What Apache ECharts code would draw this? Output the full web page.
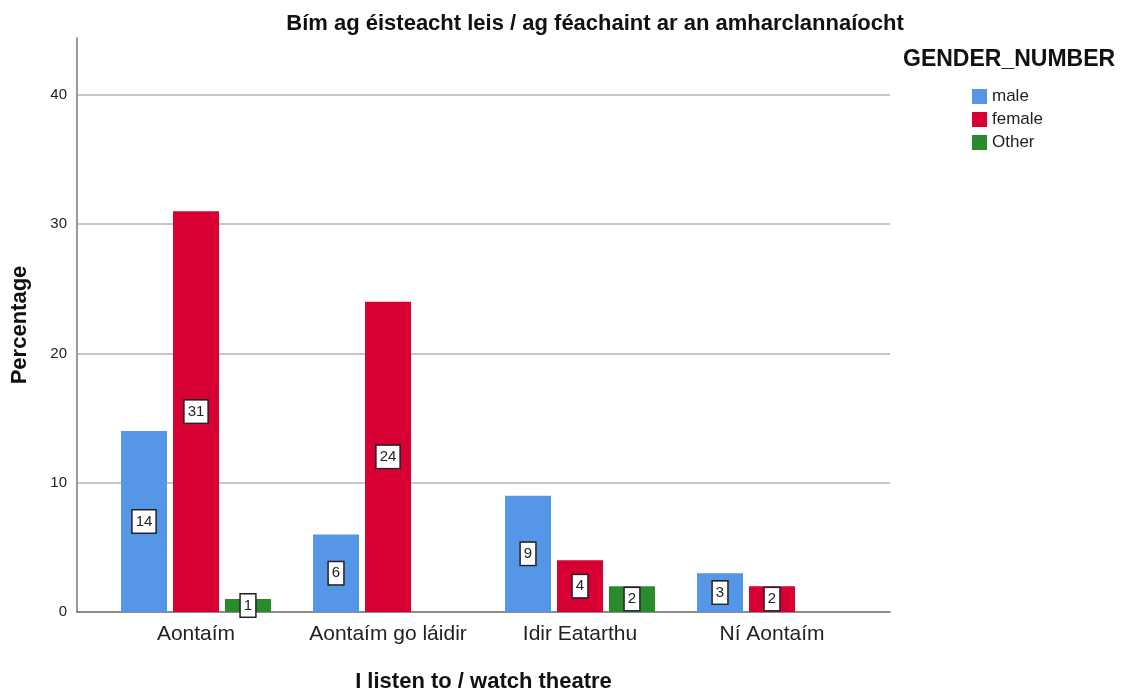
<!DOCTYPE html>
<html>
<head>
<meta charset="utf-8">
<script src="https://cdn.jsdelivr.net/npm/echarts@6/dist/echarts.min.js"></script>
<style>
  html, body { margin: 0; padding: 0; background: #fff; }
  #chart { width: 1123px; height: 691px; }
</style>
</head>
<body>
<div id="chart"></div>
<script>
// Bím ag éisteacht leis / ag féachaint ar an amharclannaíocht
var categories = ['Aontaím', 'Aontaím go láidir', 'Idir Eatarthu', 'Ní Aontaím'];
var maleValues = [14, 6, 9, 3];
var femaleValues = [31, 24, 4, 2];
var otherValues = [1, '-', 2, '-'];
var yTicks = [0, 10, 20, 30, 40];

var colors = ['#5596e6', '#d60032', '#2b8a2b'];
var font = 'Liberation Sans, Arial, sans-serif';

var chart = echarts.init(document.getElementById('chart'));

var labelStyle = {
    show: true,
    position: 'inside',
    color: '#222',
    fontFamily: font,
    fontSize: 15,
    backgroundColor: '#fff',
    borderColor: '#222',
    borderWidth: 1.5,
    padding: [4, 3, 3, 3]
};

function makeSeries(name, data, color) {
    return {
        name: name,
        type: 'bar',
        xAxisIndex: 1,
        yAxisIndex: 1,
        data: data,
        barWidth: 46,
        barGap: '13%',
        itemStyle: { color: color },
        label: labelStyle
    };
}

var option = {
    animation: false,
    textStyle: { fontFamily: font },
    title: {
        text: 'Bím ag éisteacht leis / ag féachaint ar an amharclannaíocht',
        left: 590,
        textAlign: 'center',
        top: 8,
        textStyle: { fontSize: 22, fontWeight: 'bold', color: '#111', fontFamily: font }
    },
    legend: {
        orient: 'vertical',
        left: 967,
        top: 83,
        icon: 'rect',
        itemWidth: 15,
        itemHeight: 15,
        itemGap: 6,
        textStyle: { fontSize: 17, color: '#222', lineHeight: 17 },
        data: ['male', 'female', 'Other']
    },
    graphic: [{
        type: 'text',
        left: 903,
        top: 48,
        style: { text: 'GENDER_NUMBER', font: 'bold 23px ' + font, fill: '#111' }
    }],
    grid: [
        { left: 77, right: 233, top: 38, bottom: 79, outerBoundsMode: 'none' },
        { left: 100, right: 255, top: 38, bottom: 79, outerBoundsMode: 'none' }
    ],
    xAxis: [
        {
            gridIndex: 0,
            type: 'value',
            min: 0,
            max: 1,
            axisLine: { show: true, lineStyle: { color: '#777', width: 1.5 } },
            axisTick: { show: false },
            axisLabel: { show: false },
            splitLine: { show: false },
            name: 'I listen to / watch theatre',
            nameLocation: 'middle',
            nameGap: 59,
            nameTextStyle: { fontSize: 22, fontWeight: 'bold', color: '#111' }
        },
        {
            gridIndex: 1,
            type: 'category',
            data: categories,
            axisLine: { show: false },
            axisTick: { show: false },
            axisLabel: { fontSize: 21, color: '#222', margin: 12, interval: 0, hideOverlap: false }
        }
    ],
    yAxis: [
        {
            gridIndex: 0,
            type: 'value',
            min: 0,
            max: 44.4,
            interval: 10,
            axisLine: { show: true, lineStyle: { color: '#999', width: 2 } },
            axisTick: { show: false },
            axisLabel: {
                fontSize: 15, color: '#222', margin: 10, showMaxLabel: false,
                formatter: function (v) { return yTicks.indexOf(v) >= 0 ? v : ''; }
            },
            splitLine: {
                show: true,
                lineStyle: {
                    color: ['#c8c8c8', '#c8c8c8', '#c8c8c8', '#c8c8c8', '#c8c8c8', 'rgba(0,0,0,0)'],
                    width: 2
                }
            },
            name: 'Percentage',
            nameLocation: 'middle',
            nameGap: 46,
            nameTextStyle: { fontSize: 22, fontWeight: 'bold', color: '#111' }
        },
        {
            gridIndex: 1,
            type: 'value',
            min: 0,
            max: 44.4,
            show: false
        }
    ],
    series: [
        makeSeries('male', maleValues, colors[0]),
        makeSeries('female', femaleValues, colors[1]),
        makeSeries('Other', otherValues, colors[2])
    ]
};

chart.setOption(option);
</script>
</body>
</html>
